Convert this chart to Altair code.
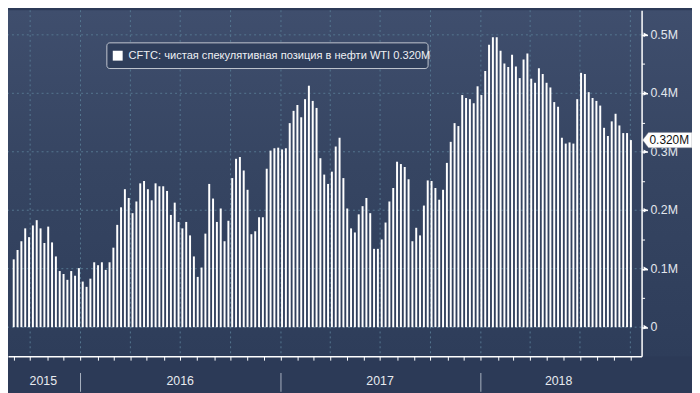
import altair as alt
import pandas as pd

# ---------------- data ----------------
first_week = "2015-09-01"
values = [
    0.116, 0.132, 0.147, 0.169, 0.154, 0.174, 0.183, 0.169, 0.144, 0.172,
    0.145, 0.121, 0.096, 0.091, 0.081, 0.096, 0.088, 0.101, 0.078, 0.069,
    0.083, 0.111, 0.106, 0.111, 0.098, 0.111, 0.136, 0.175, 0.205, 0.236,
    0.221, 0.195, 0.215, 0.246, 0.250, 0.236, 0.217, 0.246, 0.241, 0.241,
    0.233, 0.192, 0.213,
    0.180, 0.169, 0.180, 0.157, 0.121, 0.086, 0.102, 0.160, 0.245, 0.220,
    0.180, 0.203, 0.147, 0.182, 0.255, 0.288, 0.291, 0.268, 0.235, 0.159,
    0.164, 0.188, 0.188, 0.271, 0.302, 0.306, 0.307, 0.304, 0.306, 0.349,
    0.370, 0.380, 0.359, 0.390, 0.413, 0.387, 0.375, 0.289, 0.261, 0.245,
    0.266, 0.309, 0.324, 0.255, 0.203, 0.169, 0.162, 0.193, 0.207, 0.221,
    0.195, 0.134, 0.134, 0.150, 0.179, 0.215, 0.238, 0.283, 0.279, 0.274,
    0.253, 0.147, 0.170, 0.157, 0.208, 0.251, 0.250, 0.238, 0.218, 0.235,
    0.281, 0.317, 0.349, 0.344, 0.397, 0.392, 0.390, 0.383, 0.412, 0.397,
    0.438, 0.483, 0.496, 0.496, 0.473, 0.451, 0.445, 0.466, 0.446, 0.426,
    0.458, 0.468, 0.425, 0.418, 0.443, 0.433, 0.418, 0.410, 0.385, 0.377,
    0.324, 0.314, 0.316, 0.314, 0.390, 0.435, 0.433, 0.402, 0.392, 0.387,
    0.379, 0.341, 0.327, 0.352, 0.365, 0.345, 0.332, 0.332, 0.320,
]
dates = pd.date_range(first_week, periods=len(values), freq="7D").strftime("%Y-%m-%d").tolist()

y_tick_values = [0, 0.05, 0.1, 0.15, 0.2, 0.25, 0.3, 0.35, 0.4, 0.45, 0.5]
y_major = [0, 0.1, 0.2, 0.3, 0.4, 0.5]
y_major_labels = ["0", "0.1M", "0.2M", "0.3M", "0.4M", "0.5M"]
quarter_dates = ["2015-10-01", "2016-01-01", "2016-04-01", "2016-07-01", "2016-10-01",
                 "2017-01-01", "2017-04-01", "2017-07-01", "2017-10-01",
                 "2018-01-01", "2018-04-01", "2018-07-01", "2018-10-01"]
year_bounds = ["2016-01-01", "2017-01-01", "2018-01-01"]
year_labels = ["2015", "2016", "2017", "2018"]
year_label_dates = ["2015-10-25", "2016-07-01", "2017-07-01", "2018-05-23"]
last_value = [0.320]
last_label = ["0.320M"]
legend_text = "CFTC: чистая спекулятивная позиция в нефти WTI 0.320M"

# ---------------- layout ----------------
W, H = 641, 350
RP, BP = 51, 35
FONT = "Liberation Sans"


def ms(s):
    return int(pd.Timestamp(s, tz="UTC").value // 10**6)


xscale = alt.Scale(type="utc", domain=[ms("2015-08-30 14:00"), ms("2018-10-12 12:00")])
yscale = alt.Scale(domain=[-0.0496, 0.5421], nice=False, zero=False)

df = pd.DataFrame({"date": dates, "value": values})
one = pd.DataFrame({"a": [0]})

major_test = "round(datum.value*20) % 2 == 0"

x_axis = alt.Axis(orient="bottom", tickCount={"interval": "month", "step": 1},
                  labels=False, grid=False, domainColor="#ffffff", domainWidth=1.5,
                  tickColor="#ffffff", tickSize=4, tickWidth=1, zindex=1, title=None)
y_axis = alt.Axis(orient="right", values=y_tick_values, grid=False, labels=False,
                  domainColor="#ffffff", domainWidth=1.5, tickColor="#ffffff",
                  tickSize={"condition": {"test": major_test, "value": 6}, "value": 3},
                  tickWidth={"condition": {"test": major_test, "value": 1.5}, "value": 1},
                  zindex=1, title=None)

bg = alt.Chart(one).mark_rect(
    fill=alt.Gradient(
        gradient="linear",
        stops=[alt.GradientStop(color="#3f4e6d", offset=0),
               alt.GradientStop(color="#364562", offset=0.45),
               alt.GradientStop(color="#2e3d5a", offset=1)],
        x1=0, x2=0, y1=0, y2=1,
    )
).encode(x=alt.value(0), x2=alt.value(W + RP), y=alt.value(0), y2=alt.value(H))

hgrid = alt.Chart(pd.DataFrame({"value": y_major})).mark_rule(
    color="#557690", strokeDash=[2, 3], strokeWidth=1
).encode(y=alt.Y("value:Q", scale=yscale, axis=y_axis))

vgrid = alt.Chart(pd.DataFrame({"date": quarter_dates})).mark_rule(
    color="#557690", strokeDash=[2, 3], strokeWidth=1
).encode(x=alt.X("date:T", scale=xscale, axis=x_axis))

bars = alt.Chart(df).mark_bar(color="#ffffff", size=2).encode(
    x=alt.X("date:T", scale=xscale, axis=x_axis),
    y=alt.Y("value:Q", scale=yscale, axis=y_axis),
)

arrows = alt.Chart(pd.DataFrame({"value": y_major})).mark_point(
    shape="triangle-right", filled=True, size=22, color="#ffffff", opacity=1
).encode(x=alt.value(W + 4), y=alt.Y("value:Q", scale=yscale, axis=y_axis))

ylabels = alt.Chart(pd.DataFrame({"value": y_major, "t": y_major_labels})).mark_text(
    color="#e2e6ed", font=FONT, fontSize=12.5, align="left", baseline="middle"
).encode(x=alt.value(W + 9), y=alt.Y("value:Q", scale=yscale, axis=y_axis), text="t:N")

seps = alt.Chart(pd.DataFrame({"date": year_bounds})).mark_rule(
    color="#aab3c1", strokeWidth=1
).encode(x=alt.X("date:T", scale=xscale, axis=x_axis), y=alt.value(H + 17), y2=alt.value(H + 36))

years = alt.Chart(pd.DataFrame({"date": year_label_dates, "t": year_labels})).mark_text(
    color="#e8ebf0", font=FONT, fontSize=12.5, baseline="middle", align="center"
).encode(x=alt.X("date:T", scale=xscale, axis=x_axis), y=alt.value(H + 25), text="t:N")

legend_box = alt.Chart(one).mark_rect(
    fill="#2f3e5b", stroke="#c3c8d1", strokeWidth=1, cornerRadius=3
).encode(x=alt.value(100), x2=alt.value(425), y=alt.value(33), y2=alt.value(59))

legend_sq = alt.Chart(one).mark_rect(fill="#ffffff").encode(
    x=alt.value(106), x2=alt.value(116), y=alt.value(41), y2=alt.value(51))

legend_txt = alt.Chart(pd.DataFrame({"t": [legend_text]})).mark_text(
    color="#eef0f4", font=FONT, fontSize=11.2, align="left", baseline="middle"
).encode(x=alt.value(122), y=alt.value(46.5), text="t:N")

tag = alt.Chart(pd.DataFrame({"value": last_value})).mark_point(
    shape="M -1 0 L -0.76 -0.31 L 1 -0.31 L 1 0.31 L -0.76 0.31 Z",
    size=2500, filled=True, fill="#ffffff", stroke="#8a8f99", strokeWidth=0.5, opacity=1
).encode(x=alt.value(W + 26), y=alt.Y("value:Q", scale=yscale, axis=y_axis))

tag_txt = alt.Chart(pd.DataFrame({"value": last_value, "t": last_label})).mark_text(
    color="#111111", font=FONT, fontSize=12, align="left", baseline="middle"
).encode(x=alt.value(W + 8), y=alt.Y("value:Q", scale=yscale, axis=y_axis), text="t:N")

chart = alt.layer(
    bg, hgrid, vgrid, bars, arrows, ylabels, seps, years,
    legend_box, legend_sq, legend_txt, tag, tag_txt
).properties(
    width=W, height=H,
    padding={"left": 0, "top": 0, "right": RP, "bottom": BP},
    autosize=alt.AutoSizeParams(type="none"),
    background="#2c3a57",
).configure_view(strokeWidth=0)

chart.save("out.html", embed_options={"renderer": "svg", "actions": False})
